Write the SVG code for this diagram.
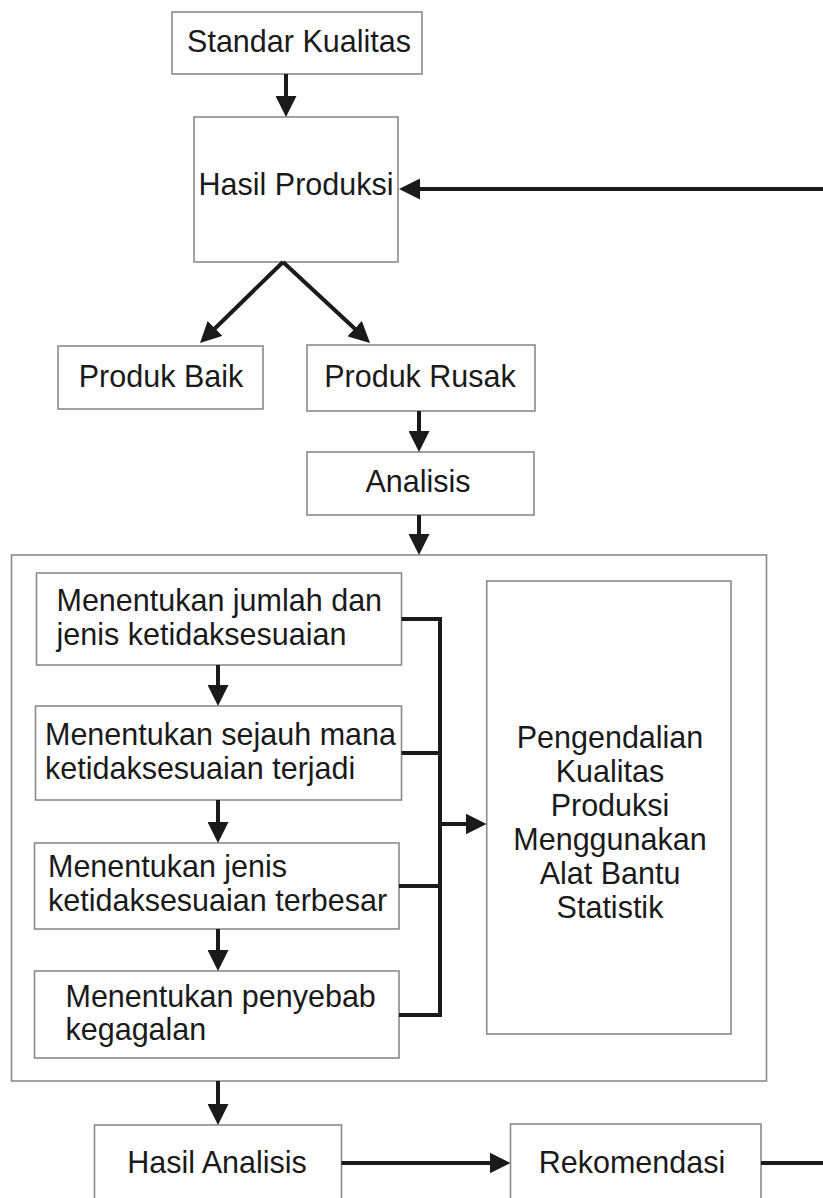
<svg xmlns="http://www.w3.org/2000/svg" width="823" height="1198" viewBox="0 0 823 1198">
<style>
.box{fill:#fff;stroke:#8a8a8a;stroke-width:1.6}
.t{font-family:"Liberation Sans",Arial,sans-serif;font-size:30.5px;fill:#1a1a1a}
.c{text-anchor:middle}
.ln{fill:none;stroke:#1a1a1a;stroke-width:4}
.ar{fill:none;stroke:#1a1a1a;stroke-width:4;marker-end:url(#ah)}
</style>
<defs>
<marker id="ah" markerUnits="userSpaceOnUse" markerWidth="21" markerHeight="21" refX="16" refY="10.5" orient="auto" viewBox="0 0 21 21">
<path d="M0,0 L21,10.5 L0,21 z" fill="#1a1a1a"/>
</marker>
</defs>
<rect width="823" height="1198" fill="#fff"/>
<g id="container"><rect class="box" x="11.5" y="555" width="755" height="526"/></g>
<g id="standar"><rect class="box" x="172" y="12" width="250" height="62"/><text class="t c" x="299" y="52">Standar Kualitas</text></g>
<g id="hasil-produksi"><rect class="box" x="194" y="117" width="204" height="145"/><text class="t c" x="296" y="195">Hasil Produksi</text></g>
<g id="produk-baik"><rect class="box" x="58" y="346" width="205" height="63"/><text class="t c" x="161" y="387">Produk Baik</text></g>
<g id="produk-rusak"><rect class="box" x="307" y="345" width="228" height="66"/><text class="t c" x="420" y="387">Produk Rusak</text></g>
<g id="analisis"><rect class="box" x="307" y="452" width="227" height="63"/><text class="t c" x="418" y="492">Analisis</text></g>
<g id="step1"><rect class="box" x="36.5" y="573" width="365" height="92"/><text class="t" x="56.5" y="611">Menentukan jumlah dan</text><text class="t" x="56.5" y="645">jenis ketidaksesuaian</text></g>
<g id="step2"><rect class="box" x="35.5" y="706" width="366" height="94"/><text class="t" x="45" y="745">Menentukan sejauh mana</text><text class="t" x="45" y="779">ketidaksesuaian terjadi</text></g>
<g id="step3"><rect class="box" x="34.5" y="843" width="364.5" height="86"/><text class="t" x="48" y="877">Menentukan jenis</text><text class="t" x="48" y="911">ketidaksesuaian terbesar</text></g>
<g id="step4"><rect class="box" x="34.5" y="971" width="364.5" height="87"/><text class="t" x="65.5" y="1007">Menentukan penyebab</text><text class="t" x="65.5" y="1040">kegagalan</text></g>
<g id="pengendalian"><rect class="box" x="486.7" y="581" width="244.3" height="453"/>
<text class="t c" x="610" y="748">Pengendalian</text><text class="t c" x="610" y="782">Kualitas</text><text class="t c" x="610" y="816">Produksi</text><text class="t c" x="610" y="850">Menggunakan</text><text class="t c" x="610" y="884">Alat Bantu</text><text class="t c" x="610" y="918">Statistik</text></g>
<g id="hasil-analisis"><rect class="box" x="94.5" y="1125" width="247" height="90"/><text class="t c" x="217" y="1173">Hasil Analisis</text></g>
<g id="rekomendasi"><rect class="box" x="510.5" y="1124" width="250.5" height="90"/><text class="t c" x="632" y="1173">Rekomendasi</text></g>
<g id="connectors">
<line class="ar" x1="286" y1="74" x2="286" y2="112"/>
<line class="ar" x1="823" y1="189" x2="404" y2="189"/>
<line class="ar" x1="283" y1="262" x2="203.6" y2="339.5"/>
<line class="ar" x1="283" y1="262" x2="366.4" y2="339.5"/>
<line class="ar" x1="419" y1="411" x2="419" y2="447"/>
<line class="ar" x1="419" y1="515" x2="419" y2="550"/>
<line class="ar" x1="218" y1="665" x2="218" y2="701"/>
<line class="ar" x1="218" y1="800" x2="218" y2="838"/>
<line class="ar" x1="218" y1="929" x2="218" y2="966"/>
<polyline class="ln" points="401.5,619 440,619 440,1015 399,1015"/>
<line class="ln" x1="401.5" y1="753" x2="440" y2="753"/>
<line class="ln" x1="399" y1="886" x2="440" y2="886"/>
<line class="ar" x1="440" y1="824" x2="481.5" y2="824"/>
<line class="ar" x1="218" y1="1081" x2="218" y2="1120"/>
<line class="ar" x1="341.5" y1="1163" x2="505.5" y2="1163"/>
<line class="ln" x1="761" y1="1163" x2="823" y2="1163"/>
</g>
</svg>
